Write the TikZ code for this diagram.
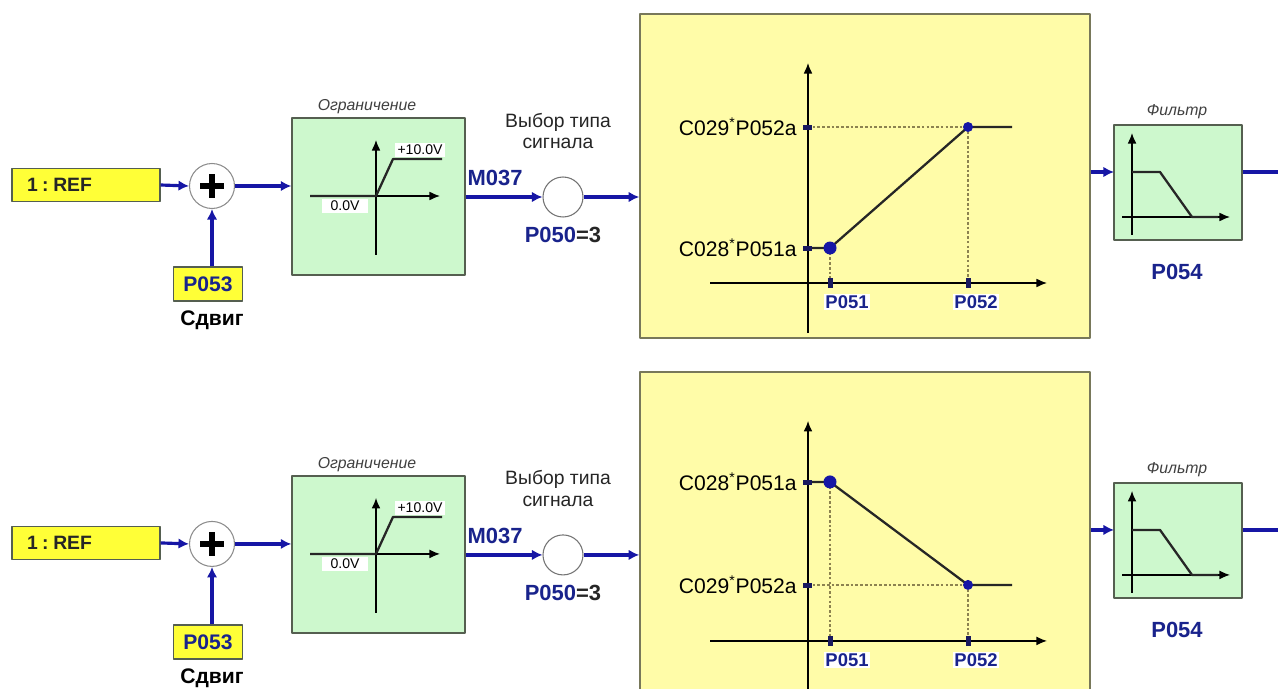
\documentclass[tikz,border=0pt]{standalone}
\usepackage{fontspec}
\setmainfont{Liberation Sans}
\usetikzlibrary{calc,arrows.meta}

\definecolor{sigblue}{RGB}{22,22,165}
\definecolor{txtblue}{RGB}{25,35,140}
\definecolor{refyellow}{RGB}{255,255,55}
\definecolor{graphyellow}{RGB}{255,252,168}
\definecolor{graphedge}{RGB}{120,120,90}
\definecolor{limgreen}{RGB}{205,248,205}
\definecolor{boxedge}{RGB}{85,95,80}
\definecolor{dotgray}{RGB}{140,130,80}
\definecolor{tickblue}{RGB}{25,25,95}

\begin{document}
\begin{tikzpicture}[
		%Global config
		x=0.02cm, y=-0.02cm,
		>={Latex[length=6pt,width=6pt]},
		line join=round,
		%Styles
		refbox/.style={
			draw=boxedge,
			fill=refyellow,
			line width=0.8pt,
			inner sep=0pt,
			font=\bfseries\fontsize{11}{13}\selectfont
		},
		sumnode/.style={
			circle,
			draw=black!45,
			fill=white,
			line width=0.6pt,
			inner sep=0pt
		},
		greenbox/.style={
			draw=boxedge,
			fill=limgreen,
			line width=0.8pt,
			inner sep=0pt
		},
		graphbox/.style={
			draw=graphedge,
			fill=graphyellow,
			line width=0.9pt,
			minimum width=9cm,
			minimum height=6.48cm,
			inner sep=0pt
		},
		sig/.style={->, line width=1.8pt, color=sigblue},
		sigline/.style={line width=1.8pt, color=sigblue},
		axis/.style={->, line width=0.7pt, >={Latex[length=6pt,width=5pt]}},
		curve/.style={line width=1.3pt, color=black!85},
		guide/.style={color=dotgray, line width=0.7pt, dash pattern=on 1.5pt off 1.2pt},
		ttl/.style={font=\itshape\fontsize{9}{11}\selectfont, text=black!75},
		vlabel/.style={fill=white, inner sep=1.2pt, font=\fontsize{8}{10}\selectfont},
		lvl/.style={anchor=east, inner sep=0pt, font=\fontsize{12}{14}\selectfont},
		plabel/.style={fill=white, inner sep=1pt, text=txtblue, font=\bfseries\fontsize{10.5}{12}\selectfont},
		bigpar/.style={text=txtblue, font=\bfseries\fontsize{12.5}{14}\selectfont}
		]

		\useasboundingbox (0,0) rectangle (1278,689);
		\fill[white] (0,0) rectangle (1278,689);
		\clip (0,0) rectangle (1278,689);

		% both rows share the same signal chain
		\foreach \r/\dy in {a/0cm, b/-7.16cm}{
		\begin{scope}[yshift=\dy]
			% input and offset
			\node[refbox, text width=2.36cm, inner xsep=0.3cm, minimum height=0.66cm, align=left, text=black!85] (ref\r) at (86,185) {1\hspace{0.22em}:\hspace{0.25em}REF};
			\node[sumnode, minimum size=0.9cm] (sum\r) at (212,186) {};
			\draw[line width=3pt] ([xshift=-0.24cm]sum\r.center) -- ([xshift=0.24cm]sum\r.center)
				([yshift=-0.24cm]sum\r.center) -- ([yshift=0.24cm]sum\r.center);
			\node[refbox, minimum width=1.38cm, minimum height=0.68cm, text=txtblue, font=\bfseries\fontsize{12}{14}\selectfont] (off\r) at (208,284) {P053};
			\node[font=\bfseries\fontsize{12}{14}\selectfont] (offttl\r) at (212,320) {Сдвиг};
			\draw[sig] (ref\r.east) -- (sum\r.west);
			\draw[sig] (off\r.north -| sum\r) -- (sum\r.south);

			% limiter
			\node[greenbox, minimum width=3.46cm, minimum height=3.14cm] (lim\r) at (378.5,196.5) {};
			\node[ttl] (limttl\r) at (367,107) {Ограничение};
			\draw[axis] (376,255) -- (376,140);
			\draw[axis] (310,196) -- (440,196);
			\draw[curve] (310,196) -- (376,196) -- (393,159) -- (442,159);
			\node[vlabel] (hi\r) at (420,150) {+10.0V};
			\node[vlabel, inner xsep=5pt] (lo\r) at (345,206) {0.0V};
			\draw[sig] (sum\r.east) -- (sum\r.east -| lim\r.west);

			% signal type selector
			\node[sumnode, minimum size=0.8cm, draw=black!55] (sel\r) at (563,197) {};
			\node[align=center, font=\fontsize{11}{12.5}\selectfont, text=black!85] (selttl\r) at (558,131) {Выбор типа\\сигнала};
			\node[bigpar] (m\r) at (495,178) {M037};
			\node[bigpar] (typ\r) at (563,235) {P050\textcolor{black!85}{=3}};
			\draw[sig] (lim\r.east |- sel\r) -- (sel\r.west);

			% characteristic
			\node[graphbox] (gr\r) at (865,176) {};
			\draw[sig] (sel\r.east) -- (sel\r.east -| gr\r.west);

			% filter
			\node[greenbox, minimum width=2.56cm, minimum height=2.3cm] (flt\r) at (1178,182.5) {};
			\node[ttl] (fltttl\r) at (1177,112) {Фильтр};
			\node[bigpar] (tf\r) at (1177,272) {P054};
			\draw[axis] (1132,235) -- (1132,133);
			\draw[axis] (1122,217) -- (1230,217);
			\draw[curve] (1132,172) -- (1160,172) -- (1192,217) -- (1218,217);
			\coordinate (fin\r) at (1114,172);
			\coordinate (out\r) at (1278,172);
			\draw[sig] (fin\r -| gr\r.east) -- (fin\r);
			\draw[sigline] (fin\r -| flt\r.east) -- (out\r);
		\end{scope}
		}

		% rising characteristic
		\begin{scope}
			\draw[guide] (808,127) -- (968,127);
			\draw[guide] (830,248) -- (830,283);
			\draw[guide] (968,127) -- (968,283);
			\draw[axis] (808,333) -- (808,63);
			\draw[axis] (710,283) -- (1047,283);
			\draw[curve] (808,248) -- (830,248) -- (968,127) -- (1012,127);
			\fill[sigblue] (830,248) circle (0.13cm);
			\fill[sigblue] (968,127) circle (0.1cm);
			\fill[tickblue] (803,125) rectangle (812,130);
			\fill[tickblue] (803,246) rectangle (812,251);
			\fill[tickblue] (828,278) rectangle (833,288);
			\fill[tickblue] (966,278) rectangle (971,288);
			\node[lvl] (hiA) at (797,127) {C029\textsuperscript{*}P052a};
			\node[lvl] (loA) at (797,248) {C028\textsuperscript{*}P051a};
			\node[plabel] (xloA) at (847,302) {P051};
			\node[plabel] (xhiA) at (976,302) {P052};
		\end{scope}

		% falling characteristic
		\begin{scope}[yshift=-7.16cm]
			\draw[guide] (808,227) -- (968,227);
			\draw[guide] (830,124) -- (830,283);
			\draw[guide] (968,227) -- (968,283);
			\draw[axis] (808,340) -- (808,63);
			\draw[axis] (710,283) -- (1047,283);
			\draw[curve] (808,124) -- (830,124) -- (968,227) -- (1012,227);
			\fill[sigblue] (830,124) circle (0.13cm);
			\fill[sigblue] (968,227) circle (0.1cm);
			\fill[tickblue] (803,122) rectangle (812,127);
			\fill[tickblue] (803,225) rectangle (812,230);
			\fill[tickblue] (828,278) rectangle (833,288);
			\fill[tickblue] (966,278) rectangle (971,288);
			\node[lvl] (hiB) at (797,124) {C028\textsuperscript{*}P051a};
			\node[lvl] (loB) at (797,227) {C029\textsuperscript{*}P052a};
			\node[plabel] (xloB) at (847,302) {P051};
			\node[plabel] (xhiB) at (976,302) {P052};
		\end{scope}
	\end{tikzpicture}
\end{document}
